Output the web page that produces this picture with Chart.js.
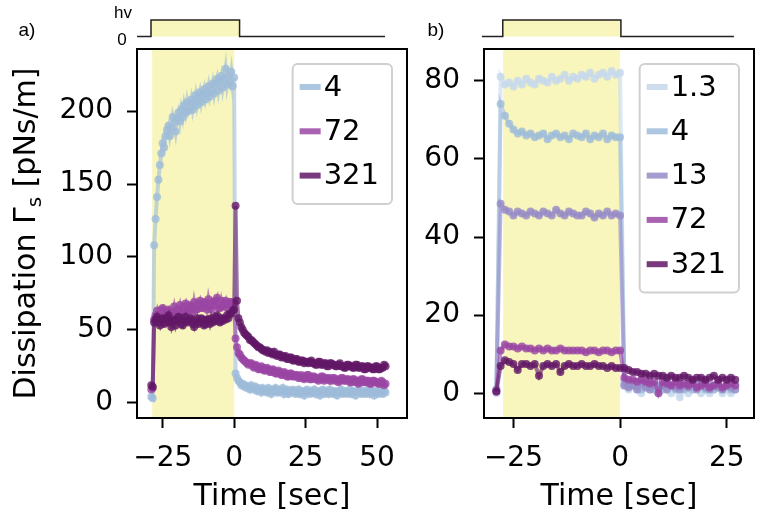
<!DOCTYPE html>
<html>
<head>
<meta charset="utf-8">
<script src="https://cdn.jsdelivr.net/npm/chart.js@4.4.1/dist/chart.umd.min.js"></script>
<style>
  html, body { margin: 0; padding: 0; background: #fff; }
  #wrap { position: relative; width: 768px; height: 517px; }
  .panel { position: absolute; top: 0; height: 517px; }
  #pa { left: 0; width: 420px; }
  #pb { left: 420px; width: 348px; }
</style>
</head>
<body>
<div id="wrap">
  <div class="panel" id="pa"><canvas id="chartA"></canvas></div>
  <div class="panel" id="pb"><canvas id="chartB"></canvas></div>
</div>
<script>
// a) time [sec] and dissipation [pNs/m] per series
const timeA = [
  -29,-28.5,-28,-27.5,-27,-26.5,-26,-25.5,-25,-24.5, -24,-23.5,-23,-22.5,-22,-21.5,-21,-20.5,-20,-19.5,
  -19,-18.5,-18,-17.5,-17,-16.5,-16,-15.5,-15,-14.5, -14,-13.5,-13,-12.5,-12,-11.5,-11,-10.5,-10,-9.5,
  -9,-8.5,-8,-7.5,-7,-6.5,-6,-5.5,-5,-4.5, -4,-3.5,-3,-2.5,-2,-1.5,-1,-0.5,0,0.5,
  1,1.5,2,2.5,3,3.5,4,4.5,5,5.5, 6,6.5,7,7.5,8,8.5,9,9.5,10,10.5,
  11,11.5,12,12.5,13,13.5,14,14.5,15,15.5, 16,16.5,17,17.5,18,18.5,19,19.5,20,20.5,
  21,21.5,22,22.5,23,23.5,24,24.5,25,25.5, 26,26.5,27,27.5,28,28.5,29,29.5,30,30.5,
  31,31.5,32,32.5,33,33.5,34,34.5,35,35.5, 36,36.5,37,37.5,38,38.5,39,39.5,40,40.5,
  41,41.5,42,42.5,43,43.5,44,44.5,45,45.5, 46,46.5,47,47.5,48,48.5,49,49.5,50,50.5,
  51,51.5,52,52.5,53];
const a4 = [
  4,3,108,126,141,153,163,171,178,175, 183,187,190,183,188,196,192,186,195,199,
  193,201,196,204,199,206,200,203,208,201, 206,211,204,209,213,206,211,215,208,212,
  217,210,214,219,212,218,222,214,220,224, 216,222,229,218,224,220,227,217,223,20,
  17,15,14,12,13,11,12,10,11,9, 12,10,9,11,8,10,9,7,10,8,
  9,7,10,8,6,9,8,10,7,9, 7,8,10,6,8,9,6,8,7,9,
  8,6,7,9,6,8,7,5,8,9, 7,6,8,7,9,6,8,7,5,8,
  9,6,7,8,6,9,7,6,8,7, 5,8,7,9,6,7,8,6,7,9,
  6,8,7,5,8,7,9,6,7,8, 6,7,9,6,8,7,5,8,7,6,
  8,7,6,8,7];
const a72 = [
  9,10,57,60,63,58,59,64,65,60, 60,63,64,58,59,62,66,61,61,64,
  67,62,62,66,68,63,63,67,66,62, 69,64,64,68,70,65,65,69,68,64,
  71,66,64,69,67,70,72,65,65,70, 66,68,70,65,67,69,69,66,68,44,
  38,34,33,31,30,29,28,27,26,27, 27,25,24,26,25,23,23,25,24,22,
  22,24,23,21,21,23,22,20,20,22, 21,19,19,21,20,18,18,20,20,18,
  18,19,19,17,17,19,18,16,17,19, 19,16,16,18,18,16,17,15,16,18,
  18,15,16,17,17,15,15,17,17,15, 16,14,15,17,17,15,15,16,16,14,
  14,16,16,14,15,13,14,16,16,14, 14,15,15,13,13,15,15,14,14,13,
  13,15,14,12,13];
const a321 = [
  12,11,55,57,59,55,53,57,58,54, 55,58,60,55,52,56,57,53,56,59,
  58,54,53,57,59,55,56,58,57,54, 52,56,58,54,55,58,57,53,54,57,
  57,54,58,55,56,59,60,56,55,58, 56,58,57,60,58,61,61,63,64,135,
  70,58,55,52,50,48,47,46,45,43, 43,42,41,40,39,38,38,37,36,36,
  35,36,34,35,34,33,35,33,32,33, 33,31,32,31,32,30,30,31,31,29,
  29,30,30,28,28,29,29,27,28,28, 27,28,29,27,27,26,26,28,28,26,
  26,27,27,25,25,27,27,26,26,25, 25,26,27,25,25,24,24,26,26,25,
  25,24,24,26,26,24,24,25,25,23, 23,25,25,24,24,23,23,25,25,23,
  23,24,24,26,25];
const labelsA = ['4', '72', '321'];
const xTicksA = [-25, 0, 25, 50];
const yTicksA = [0, 50, 100, 150, 200];
const shadeA = [-28.7, 0];          // illumination window
const hvA = [-34, -29.1, 1.9, 52.8]; // hv trace: start, on, off, end

// b)
const timeB = [-29,-28,-27,-26,-25,-24,-23,-22,-21,-20,-19,-18,-17,-16,-15,-14,-13,-12,-11,-10,
  -9,-8,-7,-6,-5,-4,-3,-2,-1,0,1,2,3,4,5,6,7,8,9,10,11,12,13,14,15,16,17,18,19,20,
  21,22,23,24,25,26,27];
const b1p3 = [0,81,79,79.5,78.5,80,79,80.5,79.5,79, 80.5,80,79.5,81,80,80.5,81.5,80,81,80.5,
  81.5,81,82,80.5,81.5,82,81,82.5,81.5,82, 2,1,2,1,0,2,1,1,0,2, 1,0,1,-1,1,0,1,2,0,1, 0,1,2,0,1,0,1];
const b4 = [1,74,71,69,67.5,66.5,67,66,66.5,65.5, 66,66.5,65,66,66.5,65.5,66,65,66.5,66,
  65.5,66.5,65,66,65.5,66.5,65,66,65.5,65.5, 3,2,3,2,1,3,2,1,2,1, 3,2,1,2,1,2,1,2,3,1, 2,1,2,1,2,1,2];
const b13 = [1,48.5,47,46.5,45.5,46.5,46,45.5,46.5,46, 45.5,46.5,46,45.5,47,46,45.5,46.5,46,45.5,
  45.5,46.5,46,45,46,45.5,46.5,45.5,46,45.5, 2,1.5,2,1,2.5,1.5,1,2,1.5,2, 1,2,1.5,1,2,1.5,2.5,1,2,1.5, 1,2,1.5,1,2,1.5,1];
const b72 = [0.5,11,12.5,12,12,11.5,12,11.5,11.5,11, 11.5,11,11.5,11,11,11.5,11,11,11,11,
  11,10.5,11,11,10.5,11,11,10.5,11,11, 4,3.5,3.5,3,3.5,3,2.5,3,0,3, 2.5,2,3,2,2.5,2,2.5,1.5,2,2.5, 1.5,2,2.5,1.5,2,2.5,2];
const b321 = [0.5,7,8.5,8,7.5,6,7.5,7.5,7,7.5, 4.5,7,7.5,7,7.5,5.5,7,7.5,7,7,
  7.5,7,7,7.5,7,7,6.5,7,6.5,6.5, 6.5,6,5.5,5.5,5,5,4.5,5,4.5,4.5, 4,4.5,4,4,4.5,4,3.5,4,4,3.5, 4,4.5,3.5,4,3.5,4,3.5];
const labelsB = ['1.3', '4', '13', '72', '321'];
const xTicksB = [-25, 0, 25];
const yTicksB = [0, 20, 40, 60, 80];
const shadeB = [-27.4, 0];
const hvB = [-32.4, -27.5, 0.2, 26.7];

const colorsA = ['#9ebcda', '#9a45a4', '#621866'];
const colorsB = ['#c5d8ec', '#9ebcda', '#968bc7', '#9a45a4', '#621866'];

const FONT = "'DejaVu Sans', sans-serif";
const YELLOW = '#f8f6bc';
const TICK_PX = 28, TITLE_PX = 30, LEGEND_PX = 29;
Chart.defaults.font.family = FONT;
Chart.defaults.color = '#000';

function rgba(hex, a) {
  const n = parseInt(hex.slice(1), 16);
  return `rgba(${n >> 16},${(n >> 8) & 255},${n & 255},${a})`;
}
const fmt = v => (v < 0 ? '\u2212' + Math.abs(v) : String(v));

function series(times, vals, color, label, order) {
  return {
    label,
    data: times.map((t, i) => ({x: t, y: vals[i]})),
    borderColor: rgba(color, 0.6),
    backgroundColor: rgba(color, 0.8),
    pointBackgroundColor: rgba(color, 0.8),
    borderWidth: 4,
    pointRadius: 4,
    pointBorderWidth: 0,
    pointHoverRadius: 4,
    order
  };
}

// shading, frame, hv trace, panel letter, legend, y title
const panelDeco = {
  id: 'panelDeco',
  beforeDatasetsDraw(chart, args, o) {
    const {ctx, chartArea: ca, scales: {x}} = chart;
    const x0 = x.getPixelForValue(o.shade[0]), x1 = x.getPixelForValue(o.shade[1]);
    ctx.save();
    ctx.fillStyle = YELLOW;
    ctx.fillRect(x0, ca.top, x1 - x0, ca.bottom - ca.top);
    ctx.restore();
  },
  afterDraw(chart, args, o) {
    const {ctx, chartArea: ca, scales: {x}} = chart;
    ctx.save();
    // frame
    ctx.strokeStyle = '#000';
    ctx.lineWidth = 2;
    ctx.strokeRect(ca.left, ca.top, ca.right - ca.left, ca.bottom - ca.top);

    // hv trace
    const hx = o.hv.map(v => x.getPixelForValue(v));
    const yLo = 36.5, yHi = 20;
    ctx.fillStyle = YELLOW;
    ctx.fillRect(hx[1], yHi, hx[2] - hx[1], yLo - yHi);
    ctx.strokeStyle = '#222';
    ctx.lineWidth = 1.5;
    ctx.beginPath();
    ctx.moveTo(hx[0], yLo); ctx.lineTo(hx[1], yLo); ctx.lineTo(hx[1], yHi);
    ctx.lineTo(hx[2], yHi); ctx.lineTo(hx[2], yLo); ctx.lineTo(hx[3], yLo);
    ctx.stroke();

    ctx.fillStyle = '#000';
    ctx.font = "19px 'Liberation Sans', sans-serif";
    ctx.textAlign = 'center';
    ctx.textBaseline = 'alphabetic';
    ctx.fillText(o.letter, o.letterX, 36);
    if (o.hvText) {
      ctx.font = "17px 'Liberation Sans', sans-serif";
      ctx.fillText('hv', 123, 18);
      ctx.fillText('0', 122, 45);
    }

    // legend
    ctx.font = `${LEGEND_PX}px ${FONT}`;
    const tw = Math.max(...o.labels.map(s => ctx.measureText(s).width));
    const rowH = 44.3;
    const w = tw + 44, h = o.labels.length * rowH + 7;
    const bx = ca.right - 15 - w, by = ca.top + 15;
    ctx.beginPath();
    ctx.roundRect(bx, by, w, h, 5);
    ctx.fillStyle = 'rgba(255,255,255,0.8)';
    ctx.fill();
    ctx.strokeStyle = '#d0d0d0';
    ctx.lineWidth = 2;
    ctx.stroke();
    ctx.textAlign = 'left';
    ctx.textBaseline = 'middle';
    o.labels.forEach((s, i) => {
      const cy = by + 23 + i * rowH;
      ctx.strokeStyle = rgba(o.colors[i], 0.85);
      ctx.lineWidth = 6;
      ctx.beginPath();
      ctx.moveTo(bx + 7, cy); ctx.lineTo(bx + 28, cy);
      ctx.stroke();
      ctx.fillStyle = '#000';
      ctx.fillText(s, bx + 31, cy + 1);
    });

    // y title with subscript
    if (o.yTitle) {
      const parts = [['Dissipation \u0393', `${TITLE_PX}px ${FONT}`, 0], ['s', `20px ${FONT}`, 6], [' [pNs/m]', `${TITLE_PX}px ${FONT}`, 0]];
      let total = 0;
      parts.forEach(p => { ctx.font = p[1]; p.push(ctx.measureText(p[0]).width); total += p[3]; });
      ctx.translate(35, (ca.top + ca.bottom) / 2);
      ctx.rotate(-Math.PI / 2);
      ctx.textBaseline = 'alphabetic';
      let cx = -total / 2;
      parts.forEach(p => { ctx.font = p[1]; ctx.fillText(p[0], cx, p[2]); cx += p[3]; });
    }
    ctx.restore();
  }
};

function axisCfg(min, max, ticks, extra) {
  return Object.assign({
    type: 'linear', min, max,
    afterBuildTicks: s => { s.ticks = ticks.map(v => ({value: v})); },
    grid: {drawOnChartArea: false, drawTicks: true, tickLength: 10, tickWidth: 2, tickColor: '#000'},
    border: {display: true, color: '#000', width: 2},
    ticks: {color: '#000', font: {size: TICK_PX}, padding: 14, maxRotation: 0, autoSkip: false, callback: v => fmt(v)}
  }, extra);
}

function makeChart(id, cfg) {
  return new Chart(document.getElementById(id), {
    type: 'line',
    data: {datasets: cfg.datasets},
    options: {
      responsive: true,
      maintainAspectRatio: false,
      animation: false,
      events: [],
      layout: {padding: {top: 49, right: cfg.padRight, left: 0, bottom: 0}},
      plugins: {legend: {display: false}, tooltip: {enabled: false}, panelDeco: cfg.deco},
      scales: {
        x: axisCfg(cfg.xr[0], cfg.xr[1], cfg.xTicks, {
          afterFit: s => { s.height = 99; },
          title: {display: true, text: 'Time [sec]', color: '#000', font: {size: TITLE_PX}, padding: {top: 0, bottom: 2}}
        }),
        y: axisCfg(cfg.yr[0], cfg.yr[1], cfg.yTicks, {
          afterFit: s => { s.width = cfg.yWidth; }
        })
      }
    },
    plugins: [panelDeco]
  });
}

makeChart('chartA', {
  datasets: [
    series(timeA, a4, colorsA[0], labelsA[0], 3),
    series(timeA, a72, colorsA[1], labelsA[1], 2),
    series(timeA, a321, colorsA[2], labelsA[2], 1)
  ],
  xr: [-34, 60.5], yr: [-10.5, 242.6], xTicks: xTicksA, yTicks: yTicksA,
  padRight: 13, yWidth: 137,
  deco: {shade: shadeA, hv: hvA, labels: labelsA, colors: colorsA, letter: 'a)', letterX: 27, hvText: true, yTitle: true}
});

makeChart('chartB', {
  datasets: [
    series(timeB, b1p3, colorsB[0], labelsB[0], 5),
    series(timeB, b4, colorsB[1], labelsB[1], 4),
    series(timeB, b13, colorsB[2], labelsB[2], 3),
    series(timeB, b72, colorsB[3], labelsB[3], 2),
    series(timeB, b321, colorsB[4], labelsB[4], 1)
  ],
  xr: [-31.9, 31.4], yr: [-6.3, 88.1], xTicks: xTicksB, yTicks: yTicksB,
  padRight: 14, yWidth: 64,
  deco: {shade: shadeB, hv: hvB, labels: labelsB, colors: colorsB, letter: 'b)', letterX: 16, hvText: false, yTitle: false}
});
</script>
</body>
</html>
